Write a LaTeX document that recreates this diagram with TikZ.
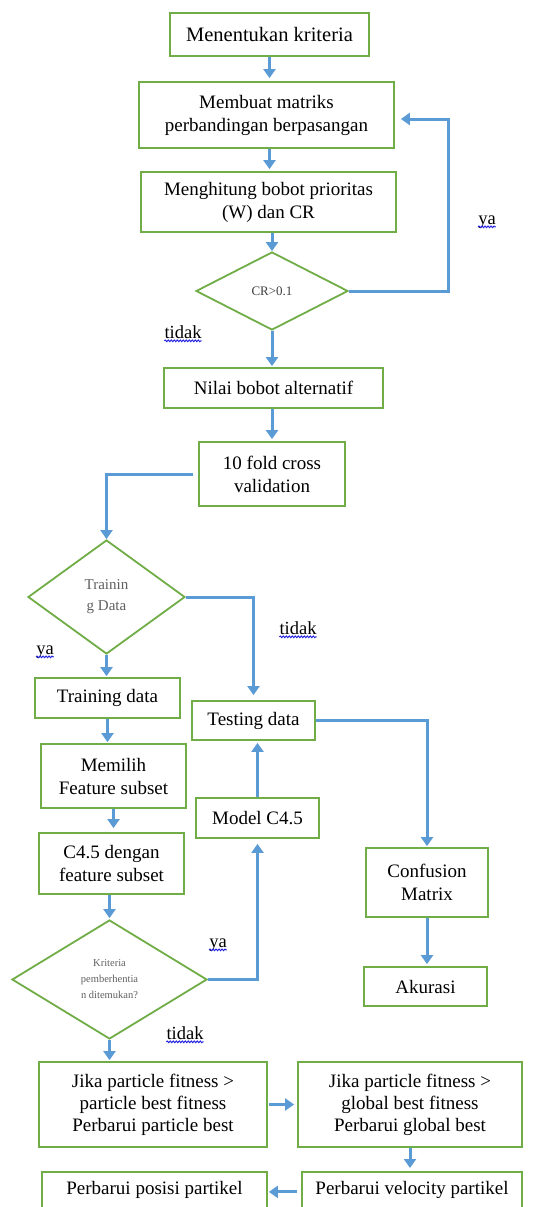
\documentclass[tikz,border=0pt]{standalone}
\usepackage{fontspec}
\setmainfont{Liberation Serif}
\usetikzlibrary{arrows.meta,shapes.geometric,decorations.pathmorphing,calc}
\definecolor{boxgreen}{HTML}{70AD47}
\definecolor{arrblue}{HTML}{5B9BD5}
\definecolor{squigblue}{HTML}{2222E0}
\definecolor{dimtext}{HTML}{606060}
\definecolor{crtext}{HTML}{404040}
\begin{document}
\begin{tikzpicture}[x=1pt,y=-1pt,
  box/.style={draw=boxgreen, line width=1.8pt, rectangle, inner sep=3pt, align=center, font=\fontsize{19}{23}\selectfont},
  dia/.style={draw=boxgreen, line width=1.8pt, diamond, inner sep=0pt, align=center},
  arr/.style={draw=arrblue, line width=3pt, -{Triangle[length=9pt,width=12pt]}},
  lbl/.style={inner sep=0pt, font=\fontsize{18.5}{21}\selectfont},
  squig/.style={draw=squigblue, line width=0.9pt, decorate, decoration={snake, amplitude=0.9pt, segment length=3pt}}]
\useasboundingbox (0,0) rectangle (534,1207);
\fill[white] (0,0) rectangle (534,1207);
\clip (0,0) rectangle (534,1207);

% boxes
\node[box, font=\fontsize{20.5}{24}\selectfont, minimum width=199, minimum height=43] (b1) at (269.5,34.5) {Menentukan kriteria};
\node[box, minimum width=255, minimum height=66] (b2) at (266.5,115) {Membuat matriks\\perbandingan berpasangan};
\node[box, minimum width=255, minimum height=60] (b3) at (268.5,202) {Menghitung bobot prioritas\\(W) dan CR};
\node[dia, minimum width=152, minimum height=78, font=\fontsize{13}{15}\selectfont, text=crtext] (d1) at (272,291) {CR>0.1};
\node[box, minimum width=219, minimum height=40] (b4) at (273.5,388) {Nilai bobot alternatif};
\node[box, minimum width=146, minimum height=64] (b5) at (272,474) {10 fold cross\\validation};
\node[dia, minimum width=157, minimum height=114, font=\fontsize{15}{21}\selectfont, text=dimtext] (d2) at (106.5,597) {Trainin\\g Data};
\node[box, minimum width=145, minimum height=40] (btrain) at (107.5,698) {Training data};
\node[box, minimum width=123, minimum height=39] (btest) at (253.5,720.5) {Testing data};
\node[box, minimum width=145, minimum height=64] (bmem) at (113.5,776) {Memilih\\Feature subset};
\node[box, minimum width=123, minimum height=40] (bmodel) at (257.5,818) {Model C4.5};
\node[box, minimum width=145, minimum height=61] (bc45) at (111.5,863.5) {C4.5 dengan\\feature subset};
\node[box, minimum width=122, minimum height=69] (bconf) at (427,882.5) {Confusion\\Matrix};
\node[box, minimum width=123, minimum height=39] (bakur) at (425.5,986.5) {Akurasi};
\node[dia, minimum width=195, minimum height=119, font=\fontsize{10.5}{16}\selectfont, text=dimtext] (d3) at (109.5,979.5) {Kriteria\\pemberhentia\\n ditemukan?};
\node[box, font=\fontsize{19}{22}\selectfont, minimum width=228, minimum height=85] (bj1) at (153,1104.5) {Jika particle fitness >\\particle best fitness\\Perbarui particle best};
\node[box, font=\fontsize{19}{22}\selectfont, minimum width=224, minimum height=85] (bj2) at (410,1104.5) {Jika particle fitness >\\global best fitness\\Perbarui global best};
\node[box, anchor=north, minimum width=225, text height=20pt, text depth=34pt] (bpos) at (154.5,1171) {Perbarui posisi partikel};
\node[box, anchor=north, minimum width=220, text height=20pt, text depth=34pt] (bvel) at (412,1171) {Perbarui velocity partikel};

% connectors
\draw[arr, shorten >=3pt] (b1.south) -- (b1.south |- b2.north);
\draw[arr, shorten >=2pt] (b1.south |- b2.south) -- (b1.south |- b3.north);
\draw[arr] (d1.north |- b3.south) -- (d1.north);
\draw[arr, shorten >=6pt] (d1.east) -- ++(100,0) |- ([yshift=-4pt]b2.east);
\draw[arr, shorten >=1pt] (d1.south) -- (d1.south |- b4.north);
\draw[arr, shorten >=2pt] (b5.north |- b4.south) -- (b5.north);
\draw[arr] ([xshift=-5pt]b5.west) -| (d2.north);
\draw[arr, shorten >=5pt] (d2.east) -| (btest.north);
\draw[arr, shorten >=1pt] (d2.south) -- (d2.south |- btrain.north);
\draw[arr, shorten >=1pt] (btrain.south) -- (btrain.south |- bmem.north);
\draw[arr, shorten >=4pt] (bmem.south) -- (bmem.south |- bc45.north);
\draw[arr, shorten >=1pt] (d3.north |- bc45.south) -- (d3.north);
\draw[arr, shorten >=5pt] (d3.east) -| (bmodel.south);
\draw[arr, shorten >=2pt] (bmodel.north) -- (bmodel.north |- btest.south);
\draw[arr, shorten >=1pt] (btest.east) -| (bconf.north);
\draw[arr, shorten >=2pt] (bconf.south) -- (bconf.south |- bakur.north);
\draw[arr, shorten >=1pt] (d3.south) -- (d3.south |- bj1.north);
\draw[arr, shorten <=1pt, shorten >=3pt] (bj1.east) -- (bj2.west);
\draw[arr, shorten >=3pt] (bj2.south) -- (bj2.south |- bvel.north);
\draw[arr, shorten <=4pt, shorten >=1pt] ($(bvel.base west)+(0,-3)$) -- ($(bpos.base east)+(0,-3)$);

% labels
\node[lbl] (ya1) at (487,222) {ya};
\node[lbl] (tidak1) at (183,332) {tidak};
\node[lbl] (tidak2) at (298,628) {tidak};
\node[lbl] (ya2) at (45,652) {ya};
\node[lbl] (ya3) at (218,945) {ya};
\node[lbl] (tidak3) at (185,1033) {tidak};
\foreach \l in {ya1,tidak1,tidak2,ya2,ya3,tidak3}{
  \draw[squig] ([yshift=-2.5pt]\l.base west) -- ([yshift=-2.5pt]\l.base east);
}
\end{tikzpicture}
\end{document}
